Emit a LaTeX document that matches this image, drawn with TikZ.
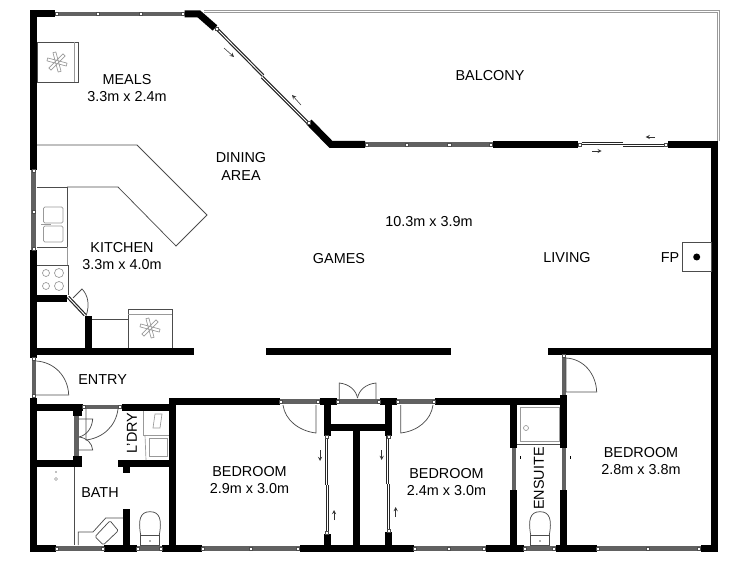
\documentclass[tikz,border=0pt]{standalone}
\usepackage{fontspec}
\setmainfont{Liberation Sans}

\tikzset{
	wall/.style={line width=5.25pt,draw=black},
	glass/.style={line width=3.2pt,draw=black!62},
	mullion/.style={line width=.45pt,draw=black!70,fill=white},
	slider/.style={line width=2.5pt,draw=black!85,postaction={draw=white,line width=.7pt}},
	railing/.style={line width=2pt,draw=black!40,postaction={draw=white,line width=.6pt}},
	fixture/.style={line width=.55pt,draw=black!70},
	pale/.style={line width=.5pt,draw=black!40},
	hint/.style={line width=.4pt,draw=black!80,-stealth},
	lbl/.style={align=center,font=\fontsize{10.8}{12.8}\selectfont,inner sep=0pt},
}

\begin{document}
\begin{tikzpicture}[x=0.75pt,y=0.75pt,yscale=-1,xscale=1]
	\useasboundingbox (0,0) rectangle (750,563);

	% balcony
	\draw [railing]    (204,11.5) -- (718.5,11.5) -- (718.5,141) ;

	% glass runs
	\draw [glass]    (55,14) -- (184.5,14) ;
	\draw [glass]    (33.5,170) -- (33.5,250) ;
	\draw [glass]    (34,358) -- (34,398) ;
	\draw [glass]    (365,144.5) -- (493,144.5) ;
	\draw [glass]    (56,548.5) -- (104,548.5) ;
	\draw [glass]    (137,548.5) -- (162,548.5) ;
	\draw [glass]    (201.7,548.5) -- (300,548.5) ;
	\draw [glass]    (414,548.5) -- (485.7,548.5) ;
	\draw [glass]    (524,548.5) -- (556,548.5) ;
	\draw [glass]    (596.7,548.5) -- (700.7,548.5) ;
	\draw [glass]    (83,407) -- (121.5,407) ;
	\draw [glass]    (280,401.5) -- (319.5,401.5) ;
	\draw [glass]    (336.5,401.5) -- (380,401.5) ;
	\draw [glass]    (397,401.5) -- (435,401.5) ;
	\draw [glass]    (564,355) -- (564,395) ;
	\draw [glass]    (513.7,448) -- (513.7,490) ;
	\draw [glass]    (563.7,448) -- (563.7,490) ;
	\draw [glass]    (76.5,415) -- (76.5,456) ;

	% sliding panels
	\draw [slider]    (216,28) -- (263,75.5) ;
	\draw [slider]    (262,77) -- (309,124) ;
	\draw [slider]    (581.5,143.5) -- (623,143.5) ;
	\draw [slider]    (623,145.5) -- (667,145.5) ;
	\draw [slider]    (326.5,436) -- (326.5,485) ;
	\draw [slider]    (327.5,485) -- (327.5,534) ;
	\draw [slider]    (387.5,436) -- (387.5,484) ;
	\draw [slider]    (388.5,484) -- (388.5,532) ;
	\draw [slider]    (68,297) -- (85,315) ;

	% walls
	\draw [wall]    (55,14) -- (33.5,14) -- (33.5,170) ;
	\draw [wall]    (184.5,14) -- (199,14) -- (215,28) ;
	\draw [wall]    (309,122) -- (331,144.5) -- (365,144.5) ;
	\draw [wall]    (493,144.5) -- (578,144.5) ;
	\draw [wall]    (668,144.5) -- (714.5,144.5) -- (714.5,548.5) -- (700.7,548.5) ;
	\draw [wall]    (33.5,250) -- (33.5,358) ;
	\draw [wall]    (33.5,298.5) -- (67,298.5) ;
	\draw [wall]    (33.5,351) -- (194,351) ;
	\draw [wall]    (88,316) -- (88,351) ;
	\draw [wall]    (266,351) -- (451,351) ;
	\draw [wall]    (548,351) -- (711,351) ;
	\draw [wall]    (33.5,398) -- (33.5,548.5) -- (56,548.5) ;
	\draw [wall]    (33.5,407.5) -- (82.5,407.5) ;
	\draw [wall]    (33.5,463.5) -- (82,463.5) ;
	\draw [wall]    (121.5,407.5) -- (172.5,407.5) ;
	\draw [wall]    (280,401.5) -- (172.5,401.5) -- (172.5,548.5) ;
	\draw [wall]    (118,463.5) -- (172,463.5) ;
	\draw [wall]    (126.5,463.5) -- (126.5,473) ;
	\draw [wall]    (126.5,509) -- (126.5,548.5) ;
	\draw [wall]    (104,548.5) -- (137,548.5) ;
	\draw [wall]    (162,548.5) -- (201.7,548.5) ;
	\draw [wall]    (319.5,401.5) -- (336.5,401.5) ;
	\draw [wall]    (327,401.5) -- (327,435.7) ;
	\draw [wall]    (380,401.5) -- (397,401.5) ;
	\draw [wall]    (388.5,401.5) -- (388.5,435.7) ;
	\draw [wall]    (330,427.5) -- (385,427.5) ;
	\draw [wall]    (356.3,427.5) -- (356.3,548.5) ;
	\draw [wall]    (300,548.5) -- (414,548.5) ;
	\draw [wall]    (327,534) -- (327,548.5) ;
	\draw [wall]    (388.5,532) -- (388.5,548.5) ;
	\draw [wall]    (435,401.5) -- (563.7,401.5) ;
	\draw [wall]    (563.7,395) -- (563.7,448) ;
	\draw [wall]    (513.7,401.5) -- (513.7,448) ;
	\draw [wall]    (513.7,490) -- (513.7,548.5) ;
	\draw [wall]    (485.7,548.5) -- (524,548.5) ;
	\draw [wall]    (563.7,490) -- (563.7,548.5) ;
	\draw [wall]    (556,548.5) -- (596.7,548.5) ;
	\fill (72.5,410) rectangle (82,415.5);
	\fill (72.5,456) rectangle (82,461);

	% frames of the openings
	\foreach \mx/\my in {56.7/14,97.7/14,140.7/14,183/14,33.5/171,33.5/212,33.5/249,34/359,34/396,
		366.7/144.5,406.7/144.5,449.3/144.5,491/144.5,580/144.5,666/144.5,
		57/548.5,103/548.5,138/548.5,161/548.5,203/548.5,251/548.5,298/548.5,
		415/548.5,449/548.5,484/548.5,525/548.5,554/548.5,598/548.5,648/548.5,699/548.5,
		84/407,120/407,281/401.5,318/401.5,338/401.5,379/401.5,398/401.5,434/401.5,
		564/356,216.5/28.5,309/123,327/437,327/533,388.5/437,388.5/531}
		\draw [mullion] (\mx-1.6,\my-1.6) rectangle (\mx+1.6,\my+1.6);

	% doors
	\draw [fixture]    (36,395) -- (68.7,395) .. controls (68,376) and (54,362) .. (36,361) ;
	\draw [fixture]    (566,392) -- (596.7,392) .. controls (596,374) and (584,359) .. (566,358) -- (566,392) ;
	\draw [fixture]    (316,405) -- (316,433) .. controls (299,431) and (285,420) .. (283,405) ;
	\draw [fixture]    (400.7,405) -- (400.7,433) .. controls (418,431) and (431,420) .. (433,405) ;
	\draw [fixture]    (339.3,399) -- (339.3,383) .. controls (349,384) and (356,390) .. (357.5,398) ;
	\draw [fixture]    (376,399) -- (376,383) .. controls (366,384) and (359,390) .. (357.5,398) ;
	\draw [fixture]    (86,408) -- (86,440) .. controls (103,438) and (116,426) .. (118,409) ;
	\draw [fixture]    (78,419) -- (92.7,419) .. controls (92,428) and (87,435) .. (79,437) ;
	\draw [fixture]    (78,450) -- (92.7,450) .. controls (92,443) and (87,438) .. (79,437) ;
	\draw [fixture]    (73,298) -- (82,289) .. controls (88,295) and (90,305) .. (86,316) ;

	% arrows on the sliders
	\draw [hint]    (224,48) -- (234,57) ;
	\draw [hint]    (301,105) -- (292,95) ;
	\draw [hint]    (655,137) -- (645.7,137) ;
	\draw [hint]    (592,151) -- (601.7,151) ;
	\draw [hint]    (320,450) -- (320,461) ;
	\draw [hint]    (334,520) -- (334,510) ;
	\draw [hint]    (381.7,450) -- (381.7,460) ;
	\draw [hint]    (395.7,517) -- (395.7,507) ;
	\draw [line width=.5pt]    (520.3,456) -- (520.3,459) ;
	\draw [line width=.5pt]    (570.7,456) -- (570.7,459) ;

	% kitchen and meals fittings
	\draw [fixture]    (37,145) -- (137,145) -- (207,215) -- (176,246) -- (118,187) -- (67,187) ;
	\draw [fixture]    (37,187) -- (67,187) -- (67,247) -- (37,247) ;
	\draw [pale]    (67,247) -- (67,265) ;
	\draw [fixture]    (37,265) -- (68,265) -- (68,295) ;
	\draw [pale,rounded corners=1pt]    (43.5,207) rectangle (63,223) ;
	\draw [pale,rounded corners=1pt]    (43.5,226) rectangle (63,242) ;
	\draw [pale]    (41,224.5) -- (51,224.5) ;
	\foreach \cx/\cy/\rd in {46/273/3.5,59/273/4.5,46/286/3.5,59/286/4.5}
		\draw [pale] (\cx,\cy) circle (\rd);
	\draw [fixture]    (37,42) rectangle (78,82) ;
	\draw [pale]    (74,42) -- (74,82) ;
	\foreach \ang in {15,75,...,315}
		\draw [pale,rotate around={\ang:(57,62)}] (57,60.5) -- (67,60.5) -- (67,63.5) -- (57,63.5) ;
	\draw [fixture]    (92,319) -- (128,319) ;
	\draw [fixture]    (128,348) -- (128,309) -- (172,309) -- (172,348) ;
	\draw [pale]    (128,314) -- (172,314) ;
	\foreach \ang in {15,75,...,315}
		\draw [pale,rotate around={\ang:(150,328)}] (150,326.5) -- (160,326.5) -- (160,329.5) -- (150,329.5) ;
	\draw [fixture]    (682.7,242.7) rectangle (711,271.7) ;
	\fill (696.7,257) circle (3.5);

	% wet area fittings
	\draw [pale]    (143,411) -- (143,435) -- (169,435) ;
	\draw [pale]    (145,435) -- (146,460) ;
	\draw [pale]    (149,438) rectangle (167,456) ;
	\draw [pale]    (155,414) -- (162,414) -- (160,428) -- (153,428) -- cycle ;
	\draw [fixture]    (74,467) -- (74,545) ;
	\draw [pale]    (56,479) circle (1.5);
	\fill [black!50] (56,472) circle (.8);
	\draw [fixture]    (78.3,545) -- (78.3,532) -- (93,532) -- (105.7,518) -- (123,518) ;
	\draw [fixture,rounded corners=1pt]    (95,536.7) -- (110,520.7) -- (118.3,530.7) -- (103.3,545) -- cycle ;
	\draw [fixture]    (140.7,535) .. controls (138,520) and (140,511.7) .. (150,511.7) .. controls (160,511.7) and (162,520) .. (159.3,535) ;
	\draw [fixture]    (140.7,535) rectangle (159.3,545) ;
	\fill [black!60] (150,541) circle (.8);
	\draw [fixture]    (530.7,535) .. controls (528,520) and (530,511.7) .. (540,511.7) .. controls (550,511.7) and (552,520) .. (549.3,535) ;
	\draw [fixture]    (530.7,535) rectangle (549.3,545) ;
	\fill [black!60] (540,541) circle (.8);
	\draw [pale]    (520.7,407.7) rectangle (559,441.7) ;
	\draw [fixture]    (517,444) -- (560,444) ;
	\draw [pale]    (526,428) circle (2.5);
	\draw [pale]    (520,417) -- (520,432) ;

	% room names
	\node [lbl] (meals) at (127,88) {MEALS\\3.3m x 2.4m};
	\node [lbl] (dining) at (241,166.5) {DINING\\AREA};
	\node [lbl] (balcony) at (490,75.5) {BALCONY};
	\node [lbl] (size) at (429,221.5) {10.3m x 3.9m};
	\node [lbl] (games) at (339,258.5) {GAMES};
	\node [lbl] (living) at (567,257.5) {LIVING};
	\node [lbl] (fp) at (670,258) {FP};
	\node [lbl] (kitchen) at (122,256) {KITCHEN\\3.3m x 4.0m};
	\node [lbl] (entry) at (102.6,379.5) {ENTRY};
	\node [lbl,rotate=90] (ldry) at (132,433) {L'DRY};
	\node [lbl] (bath) at (100,492.5) {BATH};
	\node [lbl] (bedroomA) at (249.5,480) {BEDROOM\\2.9m x 3.0m};
	\node [lbl] (bedroomB) at (446.5,482) {BEDROOM\\2.4m x 3.0m};
	\node [lbl,rotate=90] (ensuite) at (539,478.5) {ENSUITE};
	\node [lbl] (bedroomC) at (641,461) {BEDROOM\\2.8m x 3.8m};
\end{tikzpicture}
\end{document}
